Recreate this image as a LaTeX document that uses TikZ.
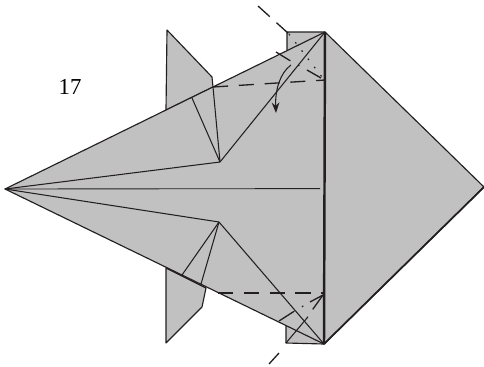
\documentclass[tikz,border=0pt]{standalone}
\usepackage{fontspec}
\setmainfont{Liberation Serif}
\usetikzlibrary{arrows.meta}
\definecolor{paper}{HTML}{C1C1C1}
\definecolor{ink}{HTML}{231F20}

\begin{document}
\begin{tikzpicture}[
  x=.02cm, y=-.02cm,
  font=\fontsize{13}{15}\selectfont,
  paperface/.style={fill=paper, draw=ink, line width=.65pt, line join=round},
  crease/.style={draw=ink, line width=.6pt},
  foldline/.style={draw=ink, line width=.75pt},
  valley/.style={foldline, dash pattern=on 8.6pt off 6.1pt},
  hidden/.style={draw=ink, line width=.7pt, dash pattern=on .9pt off 5pt},
  heavy/.style={draw=ink, line width=1.4pt}
]
\useasboundingbox (0,0) rectangle (484,366);

% Corners of the model
\coordinate (Tip) at (5,189);
\coordinate (Top) at (325,32);
\coordinate (Right) at (484,187);
\coordinate (Bottom) at (324,344);
\coordinate (UpperKnee) at (213,87);
\coordinate (LowerKnee) at (206,288);
\coordinate (UpperInner) at (220,162);
\coordinate (LowerInner) at (219,222);
\coordinate (UpperPleat) at (192,98);
\coordinate (LowerPleatA) at (182,275);
\coordinate (LowerPleatB) at (201,284);

% Flaps behind
\draw[paperface] (166,110) -- (167,30) -- (212,77) -- (UpperKnee) -- cycle;
\draw[paperface] (166,268) -- (166,343) -- (202,307) -- (LowerKnee) -- cycle;
\draw[paperface] (287,52) -- (287,32) -- (Top) -- (Bottom) -- (286,343) -- (286,327) -- cycle;

% Main body
\draw[paperface] (Tip) -- (Top) -- (Right) -- (Bottom) -- cycle;

% Inner lines
\draw[crease] (Tip) -- (UpperInner);
\draw[crease] (Tip) -- (LowerInner);
\draw[crease, line width=.5pt] (Tip) -- (320,188.6);
\draw[crease] (UpperInner) -- (UpperKnee);
\draw[crease] (UpperInner) -- (UpperPleat);
\draw[crease] (UpperInner) -- (Top);
\draw[crease] (LowerInner) -- (LowerPleatA);
\draw[crease] (LowerInner) -- (LowerPleatB);
\draw[crease] (LowerInner) -- (Bottom);

% Heavy edges
\draw[heavy] (Top) -- (Bottom);
\draw[draw=ink, line width=1pt] (Bottom) -- (Right);

% Valley folds
\draw[valley] (UpperKnee) -- (325,80);
\draw[valley] (218,293) -- (323,293);

% Mountain folds, top
\coordinate (TopFoldA) at (258,6);
\coordinate (TopFoldB) at (289,34);
\draw[foldline, dash pattern=on 9pt off 5.2pt] (TopFoldA) -- (TopFoldB);
\draw[hidden] (TopFoldB) -- (322,77);
\draw[foldline] (276,52) -- (289,60);
\draw[hidden] (289,60) -- (307,70);
\draw[foldline] (307,70) -- (321,78);

% Mountain folds, bottom
\coordinate (LowFoldA) at (269,364);
\coordinate (LowFoldB) at (279,353);
\draw[foldline] (LowFoldA) -- (LowFoldB);
\draw[crease] (286,343) -- (307,318);
\draw[hidden] (307,318) -- (313,309);
\draw[foldline] (313,309) -- (323,295);
\draw[foldline] (279,321) -- (293,312);
\draw[hidden] (293,312) -- (310,302);
\draw[foldline] (310,302) -- (323,295);

% Arrow
\coordinate (ArrowStart) at (291,65);
\coordinate (ArrowEnd) at (276,113);
\draw[draw=ink, line width=.6pt, -{Stealth[length=6pt,width=4.4pt]}] (ArrowStart) .. controls (280,73) and (275,90) .. (ArrowEnd);

% Step number
\node (StepNo) at (70,87) {17};

\end{tikzpicture}
\end{document}
